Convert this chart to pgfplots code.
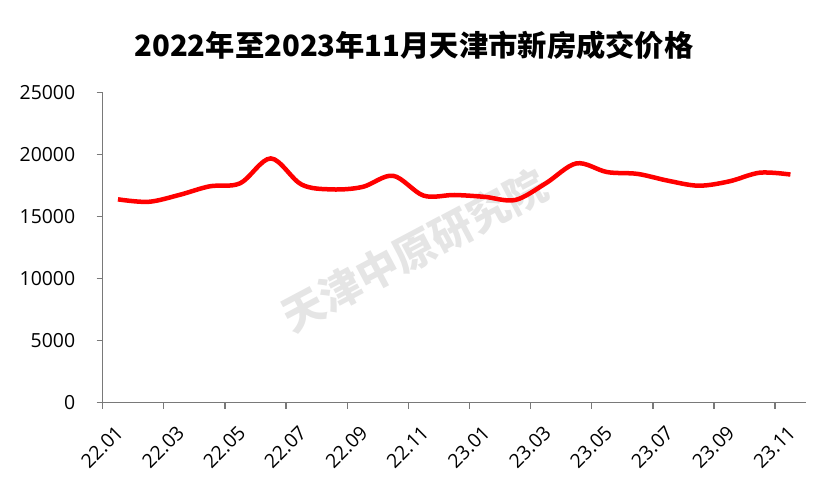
\documentclass[border=0pt]{standalone}
\usepackage{pgfplots}
\pgfplotsset{compat=1.18}
\usepackage{fontspec}
\setmainfont{Open Sans}
\newfontfamily\cjk{Noto Sans CJK SC}

\begin{document}
\begin{tikzpicture}
\useasboundingbox (-102.7bp,-86.3bp) rectangle (728.3bp,402.7bp);
\begin{axis}[
    at={(0,0)}, anchor=south west,
    scale only axis,
    width=703bp, height=310bp,
    xmin=-0.5, xmax=22.5,
    ymin=0, ymax=25000,
    axis x line=bottom, axis y line=left,
    axis line style={-, draw=gray!95!black, line width=1.3bp},
    tick style={draw=gray!95!black, line width=1.3bp},
    tick align=outside,
    major tick length=6bp,
    minor tick length=6bp,
    xtick={0,2,...,22},
    xticklabels={22.01,22.03,22.05,22.07,22.09,22.11,23.01,23.03,23.05,23.07,23.09,23.11},
    every major x tick/.append style={draw=none},
    minor xtick={-0.5,1.5,...,21.5},
    xticklabel style={rotate=45, anchor=north east, font=\fontsize{19.5}{22}\selectfont, yshift=-5bp, xshift=-10bp},
    ytick={0,5000,...,25000},
    yticklabel style={font=\fontsize{19.5}{22}\selectfont, xshift=-18bp},
    /pgf/number format/assume math mode=true,
    scaled y ticks=false,
    yticklabel={\pgfmathprintnumber[fixed, 1000 sep={}]{\tick}},
    clip=false,
]
\node[rotate=28, text=gray!20, font=\cjk\bfseries\fontsize{42}{46}\selectfont] at (axis cs:9.7,12300) {天津中原研究院};

\addplot[red, line width=4.5bp, smooth, tension=0.55] coordinates {
(0,16400)
(1,16200)
(2,16750)
(3,17450)
(4,17700)
(5,19700)
(6,17600)
(7,17200)
(8,17400)
(9,18300)
(10,16700)
(11,16750)
(12,16600)
(13,16350)
(14,17700)
(15,19300)
(16,18600)
(17,18450)
(18,17900)
(19,17500)
(20,17850)
(21,18550)
(22,18400)
};

\end{axis}
\node[font=\cjk\bfseries\fontsize{29.4}{33}\selectfont] at (311.3bp,357.7bp) {2022年至2023年11月天津市新房成交价格};
\end{tikzpicture}
\end{document}
